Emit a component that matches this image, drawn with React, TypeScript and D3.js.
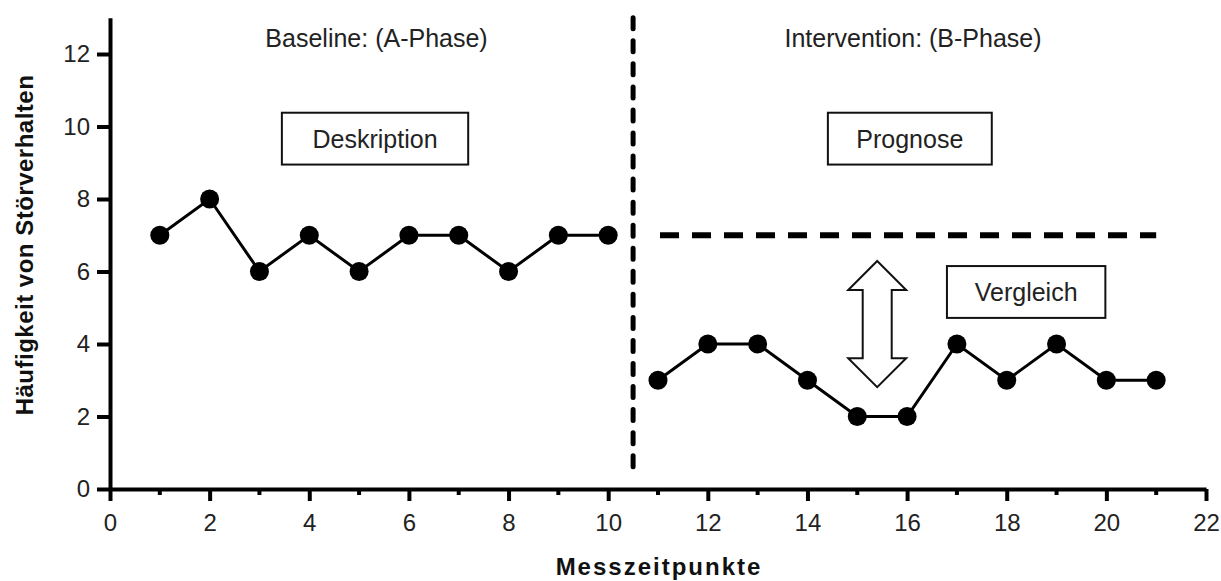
import { useEffect, useRef } from 'react';
import * as d3 from 'd3';

// Messzeitpunkte and Störverhalten counts
const baselineX = [1, 2, 3, 4, 5, 6, 7, 8, 9, 10];
const baselineY = [7, 8, 6, 7, 6, 7, 7, 6, 7, 7];
const interventionX = [11, 12, 13, 14, 15, 16, 17, 18, 19, 20, 21];
const interventionY = [3, 4, 4, 3, 2, 2, 4, 3, 4, 3, 3];

const xTicks = [0, 2, 4, 6, 8, 10, 12, 14, 16, 18, 20, 22];
const xMinorTicks = [1, 3, 5, 7, 9, 11, 13, 15, 17, 19, 21];
const yTicks = [0, 2, 4, 6, 8, 10, 12];

const phaseBoundary = 10.5;
const prognoseLevel = 7;
const prognoseRange = [11, 21];

const phaseLabels = [
  { text: 'Baseline: (A-Phase)', x: 5.35, y: 12.2 },
  { text: 'Intervention: (B-Phase)', x: 16.12, y: 12.2 },
];

// box annotations in data units: x0, x1, yTop, yBottom
const boxes = [
  { text: 'Deskription', x0: 3.45, x1: 7.19, y0: 10.38, y1: 8.95 },
  { text: 'Prognose', x0: 14.41, x1: 17.7, y0: 10.38, y1: 8.95 },
  { text: 'Vergleich', x0: 16.8, x1: 19.98, y0: 6.15, y1: 4.72 },
];

const arrow = { x: 15.4, yTop: 6.29, yBottom: 2.81 };

export default function App() {
  const ref = useRef<SVGSVGElement>(null);

  useEffect(() => {
    if (!ref.current) return;
    const svg = d3.select(ref.current);
    svg.selectAll('*').remove();

    const x = d3.scaleLinear().domain([0, 22]).range([110, 1206]);
    const y = d3.scaleLinear().domain([0, 13]).range([489, 17.75]);
    const font = 'Liberation Sans, Arial, Helvetica, sans-serif';

    // y axis
    const yAxis = svg
      .append('g')
      .attr('transform', `translate(${x(0)},0)`)
      .call(d3.axisLeft(y).tickValues(yTicks).tickSize(13).tickPadding(7).tickSizeOuter(0));
    yAxis.select('.domain').attr('stroke', '#000').attr('stroke-width', 4);
    yAxis.selectAll('line').attr('stroke', '#000').attr('stroke-width', 4);
    yAxis.selectAll('text').attr('font-size', 24).attr('font-family', font).attr('fill', '#222');

    // x axis
    const xAxis = svg
      .append('g')
      .attr('transform', `translate(0,${y(0)})`)
      .call(d3.axisBottom(x).tickValues(xTicks).tickSize(12).tickPadding(13).tickSizeOuter(0));
    xAxis.select('.domain').attr('stroke', '#000').attr('stroke-width', 4);
    xAxis.selectAll('line').attr('stroke', '#000').attr('stroke-width', 4);
    xAxis.selectAll('text').attr('font-size', 24).attr('font-family', font).attr('fill', '#222');

    svg
      .append('g')
      .attr('transform', `translate(0,${y(0)})`)
      .selectAll('line')
      .data(xMinorTicks)
      .join('line')
      .attr('x1', (d) => x(d))
      .attr('x2', (d) => x(d))
      .attr('y1', 0)
      .attr('y2', 6)
      .attr('stroke', '#000')
      .attr('stroke-width', 4);

    // axis titles
    svg
      .append('text')
      .attr('transform', `translate(33,245) rotate(-90)`)
      .attr('text-anchor', 'middle')
      .attr('font-family', font)
      .attr('font-weight', 'bold')
      .attr('font-size', 24)
      .attr('letter-spacing', 0.5)
      .attr('fill', '#111')
      .text('Häufigkeit von Störverhalten');

    svg
      .append('text')
      .attr('x', x(11.02))
      .attr('y', 575)
      .attr('text-anchor', 'middle')
      .attr('font-family', font)
      .attr('font-weight', 'bold')
      .attr('font-size', 24)
      .attr('letter-spacing', 2)
      .attr('fill', '#111')
      .text('Messzeitpunkte');

    // phase boundary
    svg
      .append('line')
      .attr('x1', x(phaseBoundary))
      .attr('x2', x(phaseBoundary))
      .attr('y1', y(13))
      .attr('y2', y(0.3))
      .attr('stroke', '#000')
      .attr('stroke-width', 5)
      .attr('stroke-dasharray', '11 12.05')
      .attr('stroke-linecap', 'round');

    // prognose line
    svg
      .append('line')
      .attr('x1', x(prognoseRange[0]) + 2)
      .attr('x2', x(prognoseRange[1]))
      .attr('y1', y(prognoseLevel))
      .attr('y2', y(prognoseLevel))
      .attr('stroke', '#000')
      .attr('stroke-width', 6)
      .attr('stroke-dasharray', '19 13');

    // phase labels
    svg
      .selectAll('text.phase')
      .data(phaseLabels)
      .join('text')
      .attr('class', 'phase')
      .attr('x', (d) => x(d.x))
      .attr('y', (d) => y(d.y))
      .attr('text-anchor', 'middle')
      .attr('font-family', font)
      .attr('font-size', 25)
      .attr('fill', '#222')
      .text((d) => d.text);

    // boxes
    const bx = svg.selectAll('g.box').data(boxes).join('g').attr('class', 'box');
    bx.append('rect')
      .attr('x', (d) => x(d.x0))
      .attr('y', (d) => y(d.y0))
      .attr('width', (d) => x(d.x1) - x(d.x0))
      .attr('height', (d) => y(d.y1) - y(d.y0))
      .attr('fill', '#fff')
      .attr('stroke', '#111')
      .attr('stroke-width', 2);
    bx.append('text')
      .attr('x', (d) => (x(d.x0) + x(d.x1)) / 2)
      .attr('y', (d) => (y(d.y0) + y(d.y1)) / 2 + 9)
      .attr('text-anchor', 'middle')
      .attr('font-family', font)
      .attr('font-size', 25)
      .attr('fill', '#222')
      .text((d) => d.text);

    // double arrow
    const ax = x(arrow.x);
    const top = y(arrow.yTop);
    const bot = y(arrow.yBottom);
    const headW = 29;
    const shaftW = 14.5;
    const headH = 29;
    const pts: [number, number][] = [
      [ax, top],
      [ax + headW, top + headH],
      [ax + shaftW, top + headH],
      [ax + shaftW, bot - headH],
      [ax + headW, bot - headH],
      [ax, bot],
      [ax - headW, bot - headH],
      [ax - shaftW, bot - headH],
      [ax - shaftW, top + headH],
      [ax - headW, top + headH],
    ];
    svg
      .append('path')
      .attr('d', d3.line()(pts) + 'Z')
      .attr('fill', '#fff')
      .attr('stroke', '#111')
      .attr('stroke-width', 2)
      .attr('stroke-linejoin', 'miter');

    // series
    const line = d3
      .line<[number, number]>()
      .x((d) => x(d[0]))
      .y((d) => y(d[1]));
    const series = [
      baselineX.map((v, i) => [v, baselineY[i]] as [number, number]),
      interventionX.map((v, i) => [v, interventionY[i]] as [number, number]),
    ];
    series.forEach((s) => {
      svg
        .append('path')
        .datum(s)
        .attr('d', line)
        .attr('fill', 'none')
        .attr('stroke', '#000')
        .attr('stroke-width', 3);
      svg
        .append('g')
        .selectAll('circle')
        .data(s)
        .join('circle')
        .attr('cx', (d) => x(d[0]))
        .attr('cy', (d) => y(d[1]))
        .attr('r', 9.5)
        .attr('fill', '#000');
    });
  }, []);

  return (
    <div style={{ position: 'absolute', left: 0, top: 0 }}>
      <svg ref={ref} width={1221} height={581} style={{ display: 'block', background: '#fff' }} />
    </div>
  );
}
